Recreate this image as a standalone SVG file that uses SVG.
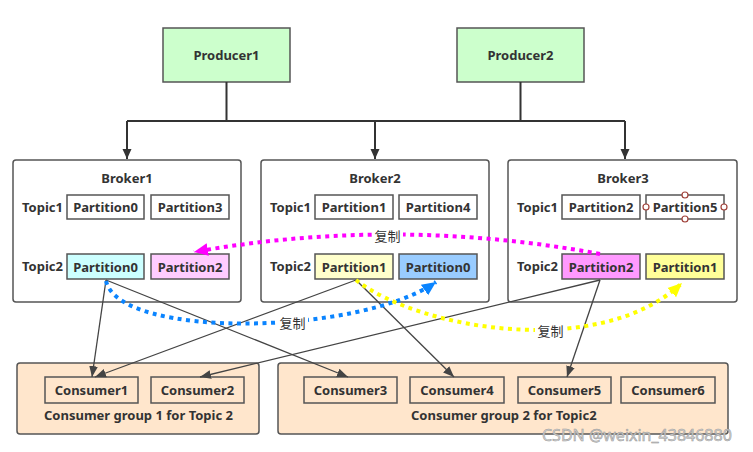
<svg xmlns="http://www.w3.org/2000/svg" width="753" height="452" viewBox="0 0 753 452">
<defs>
<marker id="ah" viewBox="0 0 10 10" refX="10" refY="5" markerWidth="10" markerHeight="10" markerUnits="userSpaceOnUse" orient="auto"><path d="M0,0.5 L10,5 L0,9.5 Z" fill="#333"/></marker>
<marker id="ahs" viewBox="0 0 10 10" refX="10" refY="5" markerWidth="11" markerHeight="11" markerUnits="userSpaceOnUse" orient="auto"><path d="M0,1 L10,5 L0,9 Z" fill="#444"/></marker>
<marker id="am" viewBox="0 0 10 10" refX="10" refY="5" markerWidth="14" markerHeight="14" markerUnits="userSpaceOnUse" orient="auto"><path d="M0,0.5 L10,5 L0,9.5 Z" fill="#ff00ff"/></marker>
<marker id="ab" viewBox="0 0 10 10" refX="10" refY="5" markerWidth="14" markerHeight="14" markerUnits="userSpaceOnUse" orient="auto"><path d="M0,0.5 L10,5 L0,9.5 Z" fill="#0a84ff"/></marker>
<marker id="ay" viewBox="0 0 10 10" refX="10" refY="5" markerWidth="14" markerHeight="14" markerUnits="userSpaceOnUse" orient="auto"><path d="M0,0.5 L10,5 L0,9.5 Z" fill="#ffff00"/></marker>
</defs>
<style>
text{font-family:"Noto Sans","Noto Sans CJK SC",sans-serif;fill:#333}
.b{font-size:13px;font-weight:bold}
.c{font-size:13px;font-weight:bold;text-anchor:middle;dominant-baseline:central}
.brk{fill:#fff;stroke:#555;stroke-width:1.5}
.prod{fill:#ccffcc;stroke:#555;stroke-width:1.5}
.grp{fill:#ffe6cc;stroke:#555;stroke-width:1.5}
.pt{stroke:#555;stroke-width:1.5}
.w{fill:#fff}
.con{fill:none;stroke:#444;stroke-width:1.3}
.dot{fill:none;stroke-width:4;stroke-linecap:butt;stroke-dasharray:4 4.5}
.lbl{font-size:13px;dominant-baseline:central;text-anchor:middle}
</style>

<g id="producer1"><rect class="prod" x="163" y="28" width="127" height="54"/><text class="c" x="226.5" y="55">Producer1</text></g>
<g id="producer2"><rect class="prod" x="457" y="28" width="127" height="54"/><text class="c" x="520.5" y="55">Producer2</text></g>

<g id="broker1">
<rect class="brk" x="13" y="160" width="228" height="142" rx="3"/>
<text class="c" x="127" y="178">Broker1</text>
<text class="b" x="22" y="212">Topic1</text>
<rect class="pt" fill="#fff" x="67" y="195" width="77" height="24"/><text class="c" x="105.5" y="207">Partition0</text>
<rect class="pt" fill="#fff" x="151" y="195" width="78" height="24"/><text class="c" x="190" y="207">Partition3</text>
<text class="b" x="22" y="271">Topic2</text>
<rect class="pt" fill="#ccffff" x="67" y="254" width="77" height="25"/><text class="c" x="105.5" y="266.5">Partition0</text>
<rect class="pt" fill="#ffccff" x="151" y="254" width="78" height="25"/><text class="c" x="190" y="266.5">Partition2</text>
</g>

<g id="broker2">
<rect class="brk" x="261" y="160" width="228" height="142" rx="3"/>
<text class="c" x="375" y="178">Broker2</text>
<text class="b" x="270" y="212">Topic1</text>
<rect class="pt" fill="#fff" x="315" y="195" width="78" height="24"/><text class="c" x="354" y="207">Partition1</text>
<rect class="pt" fill="#fff" x="399" y="195" width="78" height="24"/><text class="c" x="438" y="207">Partition4</text>
<text class="b" x="270" y="271">Topic2</text>
<rect class="pt" fill="#ffffcc" x="315" y="254" width="78" height="25"/><text class="c" x="354" y="266.5">Partition1</text>
<rect class="pt" fill="#99ccff" x="399" y="254" width="78" height="25"/><text class="c" x="438" y="266.5">Partition0</text>
</g>

<g id="broker3">
<rect class="brk" x="508" y="160" width="229" height="142" rx="3"/>
<text class="c" x="623" y="178">Broker3</text>
<text class="b" x="517" y="212">Topic1</text>
<rect class="pt" fill="#fff" x="562" y="195" width="78" height="24"/><text class="c" x="601" y="207">Partition2</text>
<rect class="pt" fill="#fff" x="646" y="195" width="78" height="24"/><text class="c" x="685" y="207">Partition5</text>
<g fill="#fff" stroke="#a0413a" stroke-width="1.2">
<circle cx="685" cy="195" r="3"/><circle cx="685" cy="219" r="3"/><circle cx="646" cy="207" r="3"/><circle cx="724" cy="207" r="3"/>
</g>
<text class="b" x="517" y="271">Topic2</text>
<rect class="pt" fill="#ff99ff" x="562" y="254" width="78" height="25"/><text class="c" x="601" y="266.5">Partition2</text>
<rect class="pt" fill="#ffff99" x="646" y="254" width="78" height="25"/><text class="c" x="685" y="266.5">Partition1</text>
</g>

<g id="group1">
<rect class="grp" x="17" y="363" width="242" height="71" rx="3"/>
<rect class="pt" fill="none" x="45" y="377" width="93" height="26"/><text class="c" x="91.5" y="390">Consumer1</text>
<rect class="pt" fill="none" x="151" y="377" width="93" height="26"/><text class="c" x="197.5" y="390">Consumer2</text>
<text class="b" x="44" y="420">Consumer group 1 for Topic 2</text>
</g>

<g id="group2">
<rect class="grp" x="278" y="363" width="450" height="71" rx="3"/>
<rect class="pt" fill="none" x="304" y="377" width="93" height="26"/><text class="c" x="350.5" y="390">Consumer3</text>
<rect class="pt" fill="none" x="410" y="377" width="94" height="26"/><text class="c" x="457" y="390">Consumer4</text>
<rect class="pt" fill="none" x="518" y="377" width="93" height="26"/><text class="c" x="564.5" y="390">Consumer5</text>
<rect class="pt" fill="none" x="621" y="377" width="94" height="26"/><text class="c" x="668" y="390">Consumer6</text>
<text class="b" x="411" y="420">Consumer group 2 for Topic2</text>
</g>

<g id="connectors">
<path fill="none" stroke="#333" stroke-width="2" d="M226.5,82 V121 M520.5,82 V121 M127,121 H625"/>
<path fill="none" stroke="#333" stroke-width="2" marker-end="url(#ah)" d="M127,121 V159"/>
<path fill="none" stroke="#333" stroke-width="2" marker-end="url(#ah)" d="M375,121 V159"/>
<path fill="none" stroke="#333" stroke-width="2" marker-end="url(#ah)" d="M625,121 V159"/>

<line class="con" x1="106" y1="280" x2="92" y2="377" marker-end="url(#ahs)"/>
<line class="con" x1="106" y1="280" x2="348" y2="377" marker-end="url(#ahs)"/>
<line class="con" x1="356" y1="280" x2="95" y2="377" marker-end="url(#ahs)"/>
<line class="con" x1="356" y1="280" x2="454" y2="377" marker-end="url(#ahs)"/>
<line class="con" x1="600" y1="280" x2="200" y2="377" marker-end="url(#ahs)"/>
<line class="con" x1="600" y1="280" x2="567" y2="377" marker-end="url(#ahs)"/>

<path class="dot" stroke="#ff00ff" d="M600,254 Q396,216 194,252" marker-end="url(#am)"/>
<path class="dot" stroke="#0a84ff" d="M106,281 C120,340 360,335 436,282" marker-end="url(#ab)"/>
<path class="dot" stroke="#ffff00" d="M356,280 C420,330 600,360 682,283" marker-end="url(#ay)"/>

<rect class="w" x="372" y="226" width="31" height="18"/><text class="lbl" x="387.5" y="235.5">复制</text>
<rect class="w" x="277" y="313" width="31" height="18"/><text class="lbl" x="292.5" y="322.5">复制</text>
<rect class="w" x="535" y="321" width="31" height="18"/><text class="lbl" x="550.5" y="330.5">复制</text>
</g>

<text x="542" y="441" font-size="16" style="fill:#d0d0d0;stroke:#999;stroke-width:0.5">CSDN @weixin_43846880</text>
</svg>
